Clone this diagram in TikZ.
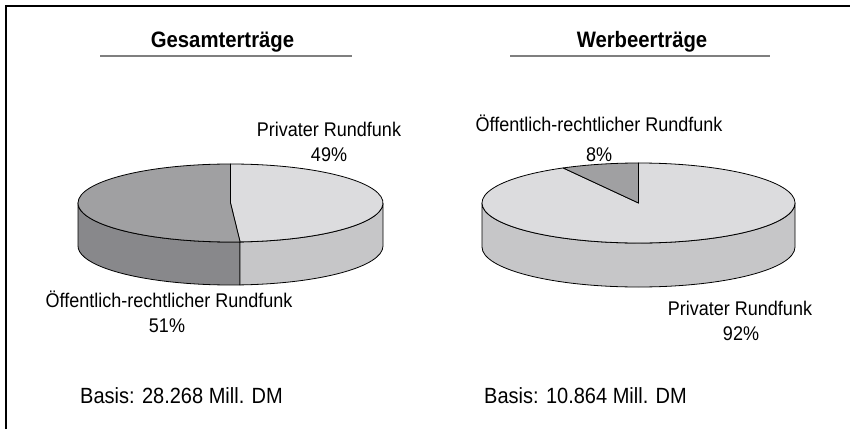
\documentclass[tikz,border=0pt]{standalone}
\usepackage{fontspec}
\usepackage{graphicx}
\setmainfont{Liberation Sans}
\definecolor{lighttop}{HTML}{DCDCDE}
\definecolor{lightside}{HTML}{C6C6C8}
\definecolor{darktop}{HTML}{A0A0A2}
\definecolor{darkside}{HTML}{88888B}
\definecolor{ruleGray}{HTML}{7F7F7F}
\newcommand{\tallt}[1]{\scalebox{1}[1.1]{#1}}
\tikzset{
  lbl/.style={anchor=base, inner sep=0pt, font=\fontsize{18}{20}\selectfont},
  basis/.style={anchor=base west, inner sep=0pt, font=\fontsize{20}{22}\selectfont},
  ttl/.style={anchor=base, inner sep=0pt, font=\fontsize{20.3}{22}\selectfont\bfseries},
  piece/.style={draw=black, line width=0.8pt, line join=round},
  titlerule/.style={draw=ruleGray, line width=1.5pt},
  frameline/.style={draw=black, line width=2pt}
}
\begin{document}
\begin{tikzpicture}[x=1pt,y=1pt]
\useasboundingbox (0,0) rectangle (850,429);
% frame
\draw[frameline] (6,0) -- (6,423) -- (850,423);
% titles
\node[ttl] (t1) at (222.5,381) {\tallt{Gesamterträge}};
\node[ttl] (t2) at (642,381) {\tallt{Werbeerträge}};
\draw[titlerule] (100,373) -- (352,373);
\draw[titlerule] (510,373) -- (770,373);
% ---------- left pie ----------
\coordinate (C1) at (230.5,226);
\def\rxa{152.5}\def\rya{39}\def\da{43}
% sides
\filldraw[piece, fill=darkside] (C1) ++(180:\rxa pt and \rya pt)
  arc[start angle=180, end angle=273.6, x radius=\rxa, y radius=\rya]
  -- ++(0,-\da)
  arc[start angle=273.6, end angle=180, x radius=\rxa, y radius=\rya] -- cycle;
\filldraw[piece, fill=lightside] (C1) ++(273.6:\rxa pt and \rya pt)
  arc[start angle=273.6, end angle=360, x radius=\rxa, y radius=\rya]
  -- ++(0,-\da)
  arc[start angle=360, end angle=273.6, x radius=\rxa, y radius=\rya] -- cycle;
% tops
\filldraw[piece, fill=lighttop] (C1) -- ++(-86.4:\rxa pt and \rya pt)
  arc[start angle=-86.4, end angle=90, x radius=\rxa, y radius=\rya] -- cycle;
\filldraw[piece, fill=darktop] (C1) -- ++(90:\rxa pt and \rya pt)
  arc[start angle=90, end angle=273.6, x radius=\rxa, y radius=\rya] -- cycle;
% ---------- right pie ----------
\coordinate (C2) at (638.5,226);
\def\rxb{156.5}\def\ryb{40}\def\db{44}
\filldraw[piece, fill=lightside] (C2) ++(180:\rxb pt and \ryb pt)
  arc[start angle=180, end angle=360, x radius=\rxb, y radius=\ryb]
  -- ++(0,-\db)
  arc[start angle=360, end angle=180, x radius=\rxb, y radius=\ryb] -- cycle;
\filldraw[piece, fill=lighttop] (C2) -- ++(118.8:\rxb pt and \ryb pt)
  arc[start angle=118.8, end angle=450, x radius=\rxb, y radius=\ryb] -- cycle;
\filldraw[piece, fill=darktop] (C2) -- ++(90:\rxb pt and \ryb pt)
  arc[start angle=90, end angle=118.8, x radius=\rxb, y radius=\ryb] -- cycle;
% labels left
\node[lbl] (l1) at (329,292) {\tallt{Privater Rundfunk}};
\node[lbl] (l1p) at (329,267) {\tallt{49\%}};
\node[lbl] (l2) at (169,122) {\tallt{Öffentlich-rechtlicher Rundfunk}};
\node[lbl] (l2p) at (167,97) {\tallt{51\%}};
% labels right
\node[lbl] (r1) at (599,297) {\tallt{Öffentlich-rechtlicher Rundfunk}};
\node[lbl] (r1p) at (599,268) {\tallt{8\%}};
\node[lbl] (r2) at (740,114) {\tallt{Privater Rundfunk}};
\node[lbl] (r2p) at (741,89) {\tallt{92\%}};
% basis
\node[basis] (b1) at (80,26) {\tallt{Basis: 28.268 Mill. DM}};
\node[basis] (b2) at (484,26) {\tallt{Basis: 10.864 Mill. DM}};
\end{tikzpicture}
\end{document}
